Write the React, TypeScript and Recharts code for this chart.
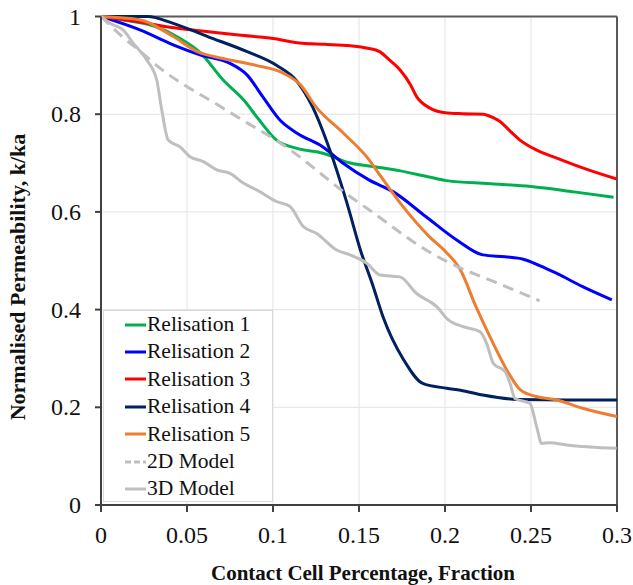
import { LineChart, Line, XAxis, YAxis, CartesianGrid, Legend, ReferenceLine, Label } from "recharts";

// [contact cell fraction, k/ka]
const relisation1: [number, number][] = [
  [0, 1], [0.013, 0.993], [0.032, 0.979], [0.044, 0.959], [0.058, 0.925], [0.071, 0.87],
  [0.083, 0.829], [0.092, 0.788], [0.102, 0.747], [0.114, 0.73], [0.129, 0.72], [0.145, 0.7],
  [0.16, 0.692], [0.174, 0.684], [0.19, 0.672], [0.201, 0.664], [0.225, 0.658], [0.25, 0.652],
  [0.275, 0.641], [0.298, 0.63],
];
const relisation2: [number, number][] = [
  [0, 1], [0.023, 0.972], [0.042, 0.942], [0.058, 0.921], [0.075, 0.904], [0.085, 0.88],
  [0.094, 0.836], [0.104, 0.788], [0.114, 0.761], [0.129, 0.733], [0.141, 0.699], [0.156, 0.665],
  [0.17, 0.641], [0.189, 0.59], [0.207, 0.542], [0.222, 0.512], [0.235, 0.508], [0.2455, 0.503],
  [0.255, 0.49], [0.265, 0.474], [0.28, 0.447], [0.297, 0.42],
];
const relisation3: [number, number][] = [
  [0, 1], [0.02, 0.99], [0.04, 0.978], [0.06, 0.97], [0.08, 0.962], [0.1, 0.955], [0.117, 0.945],
  [0.13, 0.943], [0.145, 0.94], [0.155, 0.935], [0.162, 0.928], [0.168, 0.91], [0.174, 0.89],
  [0.18, 0.86], [0.1835, 0.836], [0.191, 0.813], [0.2, 0.803], [0.21, 0.801], [0.222, 0.8],
  [0.228, 0.793], [0.232, 0.785], [0.238, 0.765], [0.2436, 0.747], [0.253, 0.727], [0.265, 0.71],
  [0.28, 0.69], [0.3, 0.667],
];
const relisation4: [number, number][] = [
  [0, 1], [0.027, 1.0], [0.042, 0.986], [0.062, 0.959], [0.085, 0.928], [0.102, 0.9],
  [0.114, 0.867], [0.123, 0.815], [0.133, 0.727], [0.143, 0.618], [0.151, 0.52], [0.158, 0.45],
  [0.164, 0.385], [0.176, 0.297], [0.187, 0.249], [0.201, 0.239], [0.209, 0.235], [0.222, 0.225],
  [0.242, 0.216], [0.27, 0.215], [0.3, 0.215],
];
const relisation5: [number, number][] = [
  [0, 1], [0.023, 0.993], [0.042, 0.959], [0.056, 0.928], [0.071, 0.914], [0.09, 0.9],
  [0.106, 0.884], [0.116, 0.86], [0.125, 0.815], [0.141, 0.761], [0.156, 0.706], [0.16, 0.686],
  [0.174, 0.618], [0.191, 0.549], [0.2, 0.52], [0.209, 0.481], [0.218, 0.406], [0.228, 0.331],
  [0.236, 0.276], [0.244, 0.235], [0.253, 0.222], [0.265, 0.215], [0.28, 0.198], [0.3, 0.181],
];
const model2D: [number, number][] = [
  [0, 1], [0.012, 0.96], [0.024, 0.925], [0.033, 0.898], [0.0711, 0.812], [0.11, 0.727],
  [0.145, 0.631], [0.156, 0.604], [0.189, 0.522], [0.203, 0.495], [0.23, 0.455], [0.255, 0.418],
];
const model3D: [number, number][] = [
  [0, 1], [0.0052, 0.986], [0.013, 0.972], [0.0188, 0.945], [0.0266, 0.911], [0.0324, 0.87],
  [0.0353, 0.809], [0.0391, 0.747], [0.0459, 0.733], [0.0517, 0.713], [0.0595, 0.703],
  [0.0673, 0.686], [0.075, 0.679], [0.0827, 0.659], [0.0905, 0.645], [0.1022, 0.621],
  [0.1099, 0.611], [0.1176, 0.57], [0.1254, 0.556], [0.137, 0.522], [0.1448, 0.512],
  [0.1545, 0.495], [0.1622, 0.471], [0.1738, 0.467], [0.1835, 0.433], [0.1952, 0.406],
  [0.2019, 0.379], [0.2106, 0.365], [0.2203, 0.355], [0.2242, 0.331], [0.2281, 0.29],
  [0.2349, 0.273], [0.2378, 0.249], [0.2407, 0.218], [0.2494, 0.208], [0.2533, 0.16],
  [0.2562, 0.126], [0.261, 0.1275], [0.2707, 0.123], [0.2998, 0.116],
];

const xTicks = [0, 0.05, 0.1, 0.15, 0.2, 0.25, 0.3];
const yTicks = [0, 0.2, 0.4, 0.6, 0.8, 1];

const series = [
  { name: "Relisation 1", points: relisation1, color: "#00B050", dash: undefined },
  { name: "Relisation 2", points: relisation2, color: "#0000FF", dash: undefined },
  { name: "Relisation 3", points: relisation3, color: "#FF0000", dash: undefined },
  { name: "Relisation 4", points: relisation4, color: "#002060", dash: undefined },
  { name: "Relisation 5", points: relisation5, color: "#ED7D31", dash: undefined },
  { name: "2D Model", points: model2D, color: "#BFBFBF", dash: "11 7" },
  { name: "3D Model", points: model3D, color: "#BFBFBF", dash: undefined },
];

const FONT = "Liberation Serif, DejaVu Serif, serif";

const XTick = ({ x, y, payload }: any) => (
  <text x={x} y={y + 31} textAnchor="middle" style={{ fontFamily: FONT, fontSize: 24 }} fill="#111">
    {String(payload.value)}
  </text>
);

const YTick = ({ x, y, payload }: any) => (
  <text x={x - 14} y={y + 8} textAnchor="end" style={{ fontFamily: FONT, fontSize: 24 }} fill="#111">
    {String(payload.value)}
  </text>
);

const LegendBox = () => (
  <div
    style={{
      width: 170,
      height: 192,
      boxSizing: "border-box",
      border: "1px solid #D9D9D9",
      background: "#fff",
      paddingLeft: 21,
      fontFamily: FONT,
      fontSize: 21.5,
      color: "#111",
    }}
  >
    {series.map((s) => (
      <div key={s.name} style={{ height: 27.4, display: "flex", alignItems: "center", whiteSpace: "nowrap" }}>
        <svg width={21} height={6} style={{ marginRight: 1 }}>
          <line x1={0} y1={3} x2={21} y2={3} stroke={s.color} strokeWidth={3} strokeDasharray={s.dash ? "6 3" : undefined} />
        </svg>
        <span style={{ lineHeight: 1 }}>{s.name}</span>
      </div>
    ))}
  </div>
);

export default function App() {
  return (
    <div style={{ position: "absolute", left: 0, top: 0, background: "#fff", fontFamily: FONT }}>
      <LineChart width={633} height={585} margin={{ top: 16.5, right: 16, bottom: 0, left: 0 }}>
        <CartesianGrid stroke="#E3E3E3" strokeWidth={1} />
        <XAxis
          type="number"
          dataKey="x"
          domain={[0, 0.3]}
          ticks={xTicks}
          height={80}
          tick={<XTick />}
          tickSize={7}
          tickMargin={0}
          axisLine={{ stroke: "#404040", strokeWidth: 2 }}
          tickLine={{ stroke: "#404040", strokeWidth: 2 }}
          allowDataOverflow
        >
          <Label
            content={() => (
              <text x={363} y={580} textAnchor="middle" style={{ fontFamily: FONT, fontSize: 21, fontWeight: "bold" }} fill="#111">
                Contact Cell Percentage, Fraction
              </text>
            )}
          />
        </XAxis>
        <YAxis
          type="number"
          domain={[0, 1]}
          ticks={yTicks}
          width={101}
          tick={<YTick />}
          tickSize={6}
          tickMargin={0}
          axisLine={{ stroke: "#404040", strokeWidth: 2 }}
          tickLine={{ stroke: "#404040", strokeWidth: 2 }}
        >
          <Label
            content={() => (
              <text
                x={25}
                y={277}
                transform="rotate(-90 25 277)"
                textAnchor="middle"
                style={{ fontFamily: FONT, fontSize: 22, fontWeight: "bold" }}
                fill="#111"
              >
                Normalised Permeability, k/ka
              </text>
            )}
          />
        </YAxis>
        <ReferenceLine y={1} stroke="#595959" strokeWidth={2} />
        <ReferenceLine x={0.3} stroke="#595959" strokeWidth={2} />
        {series.map((s) => (
          <Line
            key={s.name}
            name={s.name}
            data={s.points.map(([x, y]) => ({ x, y }))}
            dataKey="y"
            type="monotone"
            stroke={s.color}
            strokeWidth={3}
            strokeDasharray={s.dash}
            dot={false}
            activeDot={false}
            isAnimationActive={false}
          />
        ))}
        <Legend
          layout="horizontal"
          verticalAlign="middle"
          align="center"
          content={() => <LegendBox />}
          wrapperStyle={{ position: "absolute", left: 103, top: 310, width: 170, height: 192 }}
        />
      </LineChart>
    </div>
  );
}
